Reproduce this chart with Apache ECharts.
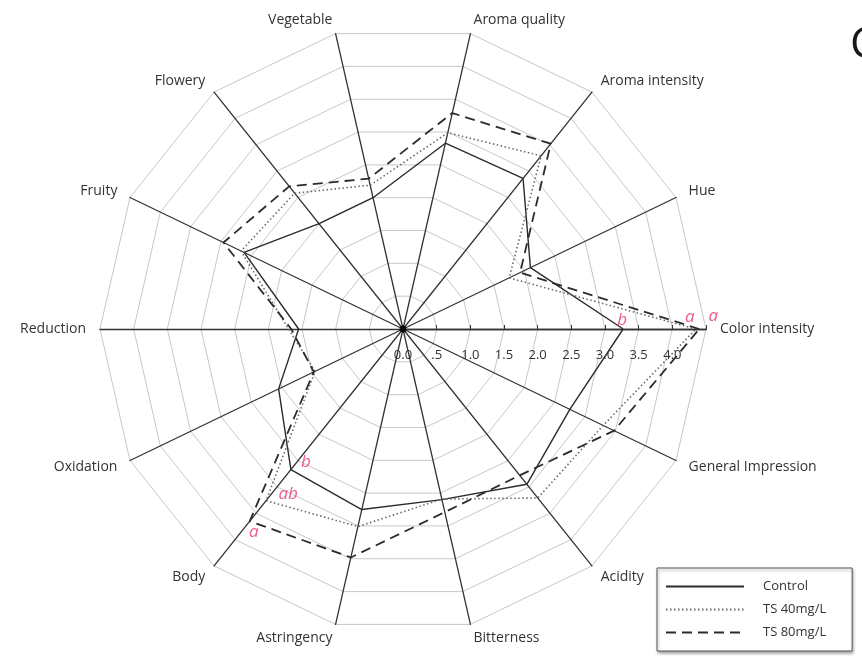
<!DOCTYPE html>
<html>
<head>
<meta charset="utf-8">
<script src="https://cdn.jsdelivr.net/npm/echarts@6/dist/echarts.min.js"></script>
<style>
  html, body { margin: 0; padding: 0; background: #ffffff; }
  #chart { width: 862px; height: 662px; }
</style>
</head>
<body>
<div id="chart"></div>
<script>
// Sensory attributes, listed counter-clockwise starting from the right-hand axis
const attributes = ['Color intensity', 'Hue', 'Aroma intensity', 'Aroma quality', 'Vegetable', 'Flowery',
  'Fruity', 'Reduction', 'Oxidation', 'Body', 'Astringency', 'Bitterness', 'Acidity', 'General Impression'];

// Mean panel scores per treatment
const controlScores = [3.27, 2.10, 2.86, 2.83, 2.00, 2.00, 2.62, 1.55, 2.05, 2.67, 2.75, 2.60, 2.95, 2.75];
const ts40Scores    = [4.35, 1.75, 3.29, 2.99, 2.19, 2.58, 2.67, 1.70, 1.45, 3.26, 3.01, 2.59, 3.21, 3.30];
const ts80Scores    = [4.40, 1.93, 3.52, 3.29, 2.29, 2.71, 2.96, 1.66, 1.47, 3.65, 3.48, 2.79, 2.78, 3.48];

const seriesNames = ['Control', 'TS 40mg/L', 'TS 80mg/L'];

// Radial scale
const scaleMax = 4.5;
const scaleStep = 0.5;
const scaleLabels = ['0.0', '.5', '1.0', '1.5', '2.0', '2.5', '3.0', '3.5', '4.0'];

// Significance letters: treatment index, attribute index, letter
const letterSeries = [0, 1, 2, 0, 1, 2];
const letterAttr   = [0, 0, 0, 9, 9, 9];
const letterText   = ['b', 'a', 'a', 'b', 'ab', 'a'];

const scores = [controlScores, ts40Scores, ts80Scores];
const FONT = '"Open Sans", "Liberation Sans", sans-serif';
const CENTER = [403, 329];
const RADIUS = 303;

const lineStyles = [
  { color: '#2b2b2b', width: 1.4, type: 'solid' },
  { color: '#6a6a6a', width: 1.6, type: [1.5, 2.5] },
  { color: '#2b2b2b', width: 1.8, type: [10, 6] }
];

// where each letter sits relative to its point
const letterOffsets = [[-1, -9], [-6, -12], [14, -13], [15, -7], [22, -6], [4, 11]];

const step = 360 / attributes.length;

const letterData = letterText.map((t, i) => ({
  value: [scores[letterSeries[i]][letterAttr[i]], letterAttr[i] * step],
  label: { formatter: t, offset: letterOffsets[i] }
}));

const chart = echarts.init(document.getElementById('chart'), null, { renderer: 'canvas' });

chart.setOption({
  backgroundColor: '#ffffff',
  animation: false,
  textStyle: { fontFamily: FONT },
  title: {
    text: 'C',
    left: 845, top: 18,
    textStyle: { fontSize: 44, fontWeight: 'normal', color: '#1a1a1a', fontFamily: FONT }
  },
  grid: { show: false, left: 0, top: 0, width: 10, height: 10 },
  xAxis: { type: 'value', show: false },
  yAxis: { type: 'value', show: false },
  legend: {
    data: seriesNames,
    orient: 'vertical',
    left: 657, top: 568,
    itemWidth: 78, itemHeight: 12, itemGap: 10,
    padding: [12, 26, 12, 8],
    borderColor: '#555', borderWidth: 1,
    backgroundColor: '#ffffff',
    shadowColor: 'rgba(0,0,0,0.35)', shadowBlur: 3, shadowOffsetX: 1, shadowOffsetY: 2,
    selectedMode: false,
    itemStyle: { opacity: 0 },
    textStyle: { fontSize: 13, color: '#333', fontFamily: FONT, padding: [0, 0, 0, 14] }
  },
  radar: {
    center: CENTER,
    radius: RADIUS,
    startAngle: 0,
    splitNumber: scaleMax / scaleStep,
    shape: 'polygon',
    indicator: attributes.map(n => ({ name: n, min: 0, max: scaleMax })),
    nameGap: 14,
    axisName: { color: '#333', fontSize: 14, fontFamily: FONT },
    axisLine: { lineStyle: { color: '#333', width: 1.3 } },
    splitLine: { lineStyle: { color: '#c8c8c8', width: 1 } },
    splitArea: { show: false },
    axisTick: { show: false },
    axisLabel: { show: false }
  },
  polar: { center: CENTER, radius: RADIUS },
  angleAxis: {
    type: 'value', min: 0, max: 360, startAngle: 0, clockwise: false, show: false
  },
  radiusAxis: {
    type: 'value', min: 0, max: scaleMax, interval: scaleStep, z: 4,
    axisLine: { show: true, lineStyle: { color: '#333', width: 1.3 } },
    axisTick: { show: true, inside: true, length: 4, lineStyle: { color: '#333', width: 1 } },
    splitLine: { show: false },
    axisLabel: {
      color: '#333', fontSize: 13, fontFamily: FONT, margin: -26, verticalAlign: 'middle',
      formatter: v => { const i = Math.round(v / scaleStep); return i < scaleLabels.length ? scaleLabels[i] : ''; }
    }
  },
  series: [
    // legend entries carry the line styles
    ...seriesNames.map((n, i) => ({
      name: n, type: 'line', data: [], symbol: 'none', showSymbol: false,
      itemStyle: { opacity: 0 }, lineStyle: lineStyles[i]
    })),
    ...seriesNames.map((n, i) => ({
      name: n, type: 'radar', symbol: 'none', z: 3,
      lineStyle: lineStyles[i],
      data: [{ value: scores[i], name: n }]
    })),
    {
      type: 'scatter', coordinateSystem: 'polar', symbolSize: 0, z: 5,
      data: letterData,
      label: {
        show: true, position: 'inside', color: '#e8336f', fontSize: 17, fontStyle: 'italic', fontFamily: FONT
      }
    },
    {
      type: 'scatter', coordinateSystem: 'polar', symbol: 'circle', symbolSize: 7, z: 6,
      itemStyle: { color: '#000' },
      data: [[0, 0]]
    }
  ]
});
</script>
</body>
</html>
